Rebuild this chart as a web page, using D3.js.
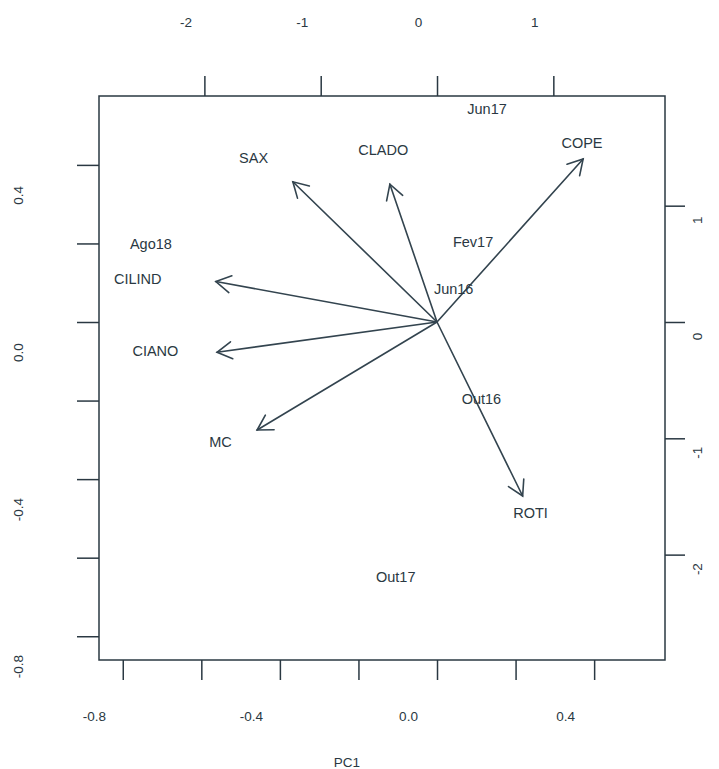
<!DOCTYPE html>
<html>
<head>
<meta charset="utf-8">
<script src="https://cdn.jsdelivr.net/npm/d3@7"></script>
<style>
  body { margin: 0; background: #fff; }
  svg text { font-family: "Liberation Sans", Arial, sans-serif; fill: #2a3842; }
</style>
</head>
<body>
<div id="chart"></div>
<script>
// ===========================
// PCA biplot (PC1 x PC2)
// loadings as arrows, samples as labels
// ===========================

// variables (loadings, bottom/left scale)
const varNames = ['SAX', 'CLADO', 'COPE', 'CILIND', 'CIANO', 'MC', 'ROTI'];
const varX = [-0.367, -0.120, 0.372, -0.563, -0.560, -0.458, 0.218];
const varY = [0.357, 0.351, 0.415, 0.103, -0.077, -0.275, -0.443];
// where the variable names sit (same scale)
const varLabelX = [-0.467, -0.137, 0.369, -0.762, -0.717, -0.551, 0.238];
const varLabelY = [0.417, 0.438, 0.455, 0.109, -0.074, -0.306, -0.486];

// samples (scores, top/right scale)
const sampleNames = ['Jun17', 'Fev17', 'Ago18', 'Jun16', 'Out16', 'Out17'];
const sampleX = [0.430, 0.310, -2.460, 0.143, 0.382, -0.355];
const sampleY = [1.831, 0.688, 0.671, 0.281, -0.665, -2.195];

// axes
const loadTicks = [-0.8, -0.6, -0.4, -0.2, 0.0, 0.2, 0.4];
const loadTickLabels = ['-0.8', '', '-0.4', '', '0.0', '', '0.4'];
const scoreTicksX = [-2, -1, 0, 1];
const scoreTicksY = [1, 0, -1, -2];
const xLabel = 'PC1';

const width = 719, height = 769;
const box = { left: 99, top: 96, right: 665, bottom: 660 };
const ink = '#2a3842';

const svg = d3.select('#chart').append('svg')
    .attr('width', width)
    .attr('height', height);

svg.append('rect').attr('width', width).attr('height', height).attr('fill', '#fff');

// Scales (equal aspect, origin shared)
const xLoad = d3.scaleLinear().domain([-0.8605, 0.5804]).range([box.left, box.right]);
const yLoad = d3.scaleLinear().domain([-0.8605, 0.5754]).range([box.bottom, box.top]);
const xScore = d3.scaleLinear().domain([-2.906, 1.960]).range([box.left, box.right]);
const yScore = d3.scaleLinear().domain([-2.906, 1.943]).range([box.bottom, box.top]);

// Box
svg.append('rect')
    .attr('x', box.left).attr('y', box.top)
    .attr('width', box.right - box.left).attr('height', box.bottom - box.top)
    .attr('fill', 'none').attr('stroke', ink).attr('stroke-width', 1.5);

function styleAxis(g) {
    g.select('.domain').remove();
    g.selectAll('.tick line').attr('stroke', ink).attr('stroke-width', 1.5);
    g.selectAll('.tick text').style('font-size', '13.5px').attr('fill', ink);
}

// Bottom axis (PC1 loadings)
const axBottom = svg.append('g')
    .attr('transform', `translate(0,${box.bottom})`)
    .call(d3.axisBottom(xLoad).tickValues(loadTicks).tickSize(20)
        .tickFormat((d, i) => loadTickLabels[i]))
    .call(styleAxis);
axBottom.selectAll('.tick text').attr('x', -29).attr('y', 56).attr('dy', '0.35em');

// Left axis (PC2 loadings)
const axLeft = svg.append('g')
    .attr('transform', `translate(${box.left},0)`)
    .call(d3.axisLeft(yLoad).tickValues(loadTicks).tickSize(22)
        .tickFormat((d, i) => loadTickLabels[i]))
    .call(styleAxis);
axLeft.selectAll('.tick text')
    .attr('x', null).attr('dy', null)
    .attr('text-anchor', 'middle')
    .attr('dominant-baseline', 'central')
    .attr('transform', 'translate(-81,30) rotate(-90)');

// Top axis (scores)
const axTop = svg.append('g')
    .attr('transform', `translate(0,${box.top})`)
    .call(d3.axisTop(xScore).tickValues(scoreTicksX).tickSize(20).tickFormat(d => String(d)))
    .call(styleAxis);
axTop.selectAll('.tick text').attr('x', -19).attr('y', -74).attr('dy', '0.35em');

// Right axis (scores)
const axRight = svg.append('g')
    .attr('transform', `translate(${box.right},0)`)
    .call(d3.axisRight(yScore).tickValues(scoreTicksY).tickSize(20).tickFormat(d => String(d)))
    .call(styleAxis);
axRight.selectAll('.tick text')
    .attr('x', null).attr('dy', null)
    .attr('text-anchor', 'middle')
    .attr('dominant-baseline', 'central')
    .attr('transform', 'translate(32,14) rotate(-90)');

// Axis title
svg.append('text')
    .attr('x', (box.left + box.right) / 2 - 35)
    .attr('y', 762)
    .attr('text-anchor', 'middle')
    .attr('dominant-baseline', 'central')
    .style('font-size', '13.5px')
    .text(xLabel);

// Arrows from the origin
const headLen = 17, headAng = Math.PI / 6;
const vars = varNames.map((name, i) => ({
    name, x: varX[i], y: varY[i], lx: varLabelX[i], ly: varLabelY[i]
}));

const arrows = svg.append('g')
    .attr('fill', 'none')
    .attr('stroke', '#33444f')
    .attr('stroke-width', 1.6)
    .attr('stroke-linecap', 'round');

arrows.selectAll('line.shaft')
    .data(vars)
    .join('line')
    .attr('class', 'shaft')
    .attr('x1', xLoad(0)).attr('y1', yLoad(0))
    .attr('x2', d => xLoad(d.x)).attr('y2', d => yLoad(d.y));

arrows.selectAll('path.head')
    .data(vars)
    .join('path')
    .attr('class', 'head')
    .attr('d', d => {
        const x2 = xLoad(d.x), y2 = yLoad(d.y);
        const a = Math.atan2(y2 - yLoad(0), x2 - xLoad(0));
        const p1 = [x2 - headLen * Math.cos(a - headAng), y2 - headLen * Math.sin(a - headAng)];
        const p2 = [x2 - headLen * Math.cos(a + headAng), y2 - headLen * Math.sin(a + headAng)];
        return `M${p1}L${x2},${y2}L${p2}`;
    });

// Variable names
svg.append('g').selectAll('text')
    .data(vars)
    .join('text')
    .attr('x', d => xLoad(d.lx))
    .attr('y', d => yLoad(d.ly))
    .attr('text-anchor', 'middle')
    .attr('dominant-baseline', 'central')
    .style('font-size', '14.5px')
    .text(d => d.name);

// Sample names
svg.append('g').selectAll('text')
    .data(sampleNames.map((name, i) => ({ name, x: sampleX[i], y: sampleY[i] })))
    .join('text')
    .attr('x', d => xScore(d.x))
    .attr('y', d => yScore(d.y))
    .attr('text-anchor', 'middle')
    .attr('dominant-baseline', 'central')
    .style('font-size', '14.5px')
    .text(d => d.name);
</script>
</body>
</html>
